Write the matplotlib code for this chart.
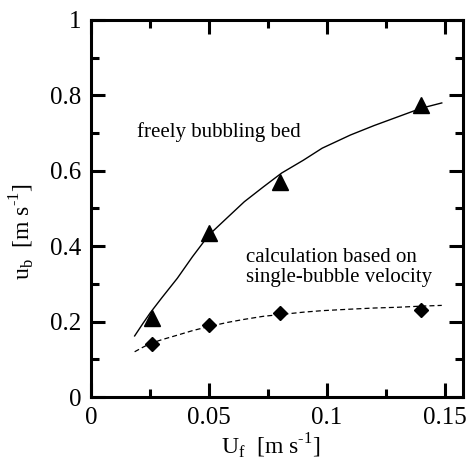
import numpy as np
import matplotlib
matplotlib.use("Agg")
import matplotlib.pyplot as plt
from matplotlib.ticker import MultipleLocator

# measured points
Uf = [0.026, 0.05, 0.08, 0.14]
ub_free = [0.21, 0.435, 0.57, 0.775]
ub_calc = [0.14, 0.19, 0.222, 0.232]

# fitted curves
fit_x = [0.0185, 0.022, 0.0252, 0.03, 0.0366, 0.043, 0.05, 0.058, 0.065, 0.073,
         0.0808, 0.09, 0.098, 0.11, 0.12, 0.13, 0.14, 0.1487]
fit_free = [0.162, 0.195, 0.224, 0.263, 0.315, 0.372, 0.43, 0.477, 0.518, 0.557,
            0.594, 0.628, 0.66, 0.695, 0.72, 0.743, 0.766, 0.78]
fit_calc = [0.12, 0.132, 0.142, 0.152, 0.164, 0.176, 0.187, 0.198, 0.206, 0.214,
            0.219, 0.225, 0.229, 0.233, 0.236, 0.238, 0.241, 0.243]

plt.rcParams['font.family'] = ['Liberation Serif', 'DejaVu Serif']
plt.rcParams['mathtext.fontset'] = 'custom'
plt.rcParams['mathtext.rm'] = 'Liberation Serif'

fig = plt.figure(figsize=(4.71, 4.66), dpi=100)
ax = fig.add_axes([91/471, 69/466, 372/471, 377/466])

ax.plot(fit_x, fit_free, 'k-', lw=1.0)
ax.plot(fit_x, fit_calc, 'k--', lw=0.9, dashes=(4, 2.5))
ax.plot(Uf, ub_free, 'k^', ms=11)
ax.plot(Uf, ub_calc, 'kD', ms=7)

ax.set_xlim(0, 0.1577)
ax.set_ylim(0, 1)
ax.xaxis.set_minor_locator(MultipleLocator(0.025))
ax.yaxis.set_minor_locator(MultipleLocator(0.1))
ax.set_xticks([0, 0.05, 0.1, 0.15])
ax.set_xticklabels(['0', '0.05', '0.1', '0.15'])
ax.set_yticks([0, 0.2, 0.4, 0.6, 0.8, 1])
ax.set_yticklabels(['0', '0.2', '0.4', '0.6', '0.8', '1'])

for s in ax.spines.values():
    s.set_linewidth(2.2)
ax.tick_params(which='both', direction='in', top=True, right=True,
               width=2.2, labelsize=18)
ax.tick_params(which='major', length=10, pad=7)
ax.tick_params(which='minor', length=6)

ax.text(0.0195, 0.703, 'freely bubbling bed', fontsize=15, va='center')
ax.text(0.0655, 0.343, 'calculation based on\nsingle-bubble velocity',
        fontsize=15, va='center', linespacing=1.05)

ax.set_xlabel(r'U$_\mathrm{f}$  [m s$^{\text{-1}}$]', fontsize=17)
ax.set_ylabel(r'u$_\mathrm{b}$  [m s$^{\text{-1}}$]', fontsize=17)
ax.xaxis.set_label_coords(0.484, -0.092)
ax.yaxis.set_label_coords(-0.145, 0.438)

fig.savefig('out.png', dpi=100)
